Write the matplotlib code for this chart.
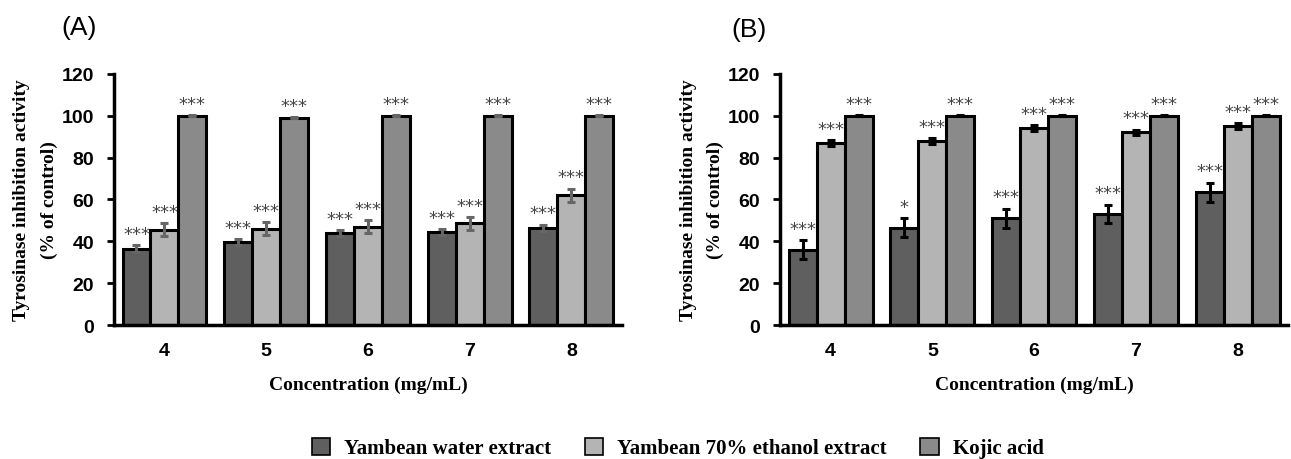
import numpy as np
import matplotlib.pyplot as plt

# Data
conc = ["4", "5", "6", "7", "8"]
series = ["Yambean water extract", "Yambean 70% ethanol extract", "Kojic acid"]

a_water = [36.5, 39.5, 44.0, 44.5, 46.5]
a_water_err = [1.5, 1.5, 1.3, 1.3, 1.5]
a_ethanol = [45.5, 46.0, 47.0, 48.5, 62.0]
a_ethanol_err = [3.0, 3.0, 3.0, 3.0, 3.0]
a_kojic = [100.0, 99.0, 100.0, 100.0, 100.0]
a_kojic_err = [0.3, 0.3, 0.3, 0.3, 0.3]
a_stars = [["***"] * 5, ["***"] * 5, ["***"] * 5]

b_water = [36.0, 46.5, 51.0, 53.0, 63.5]
b_water_err = [4.5, 4.5, 4.5, 4.5, 4.5]
b_ethanol = [87.0, 88.0, 94.0, 92.0, 95.0]
b_ethanol_err = [1.3, 1.3, 1.5, 1.3, 1.3]
b_kojic = [100.0, 100.0, 100.0, 100.0, 100.0]
b_kojic_err = [0.2, 0.2, 0.2, 0.2, 0.2]
b_stars = [["***", "*", "***", "***", "***"], ["***"] * 5, ["***"] * 5]

colors = ["#5f5f5f", "#b4b4b4", "#8a8a8a"]

fig = plt.figure(figsize=(12.91, 4.6), dpi=100)
ax_a = fig.add_axes([0.088, 0.2913, 0.394, 0.546])
ax_b = fig.add_axes([0.604, 0.2913, 0.394, 0.546])

x = np.arange(len(conc))
w = 0.275


def draw(ax, vals, errs, stars, ecol, scol):
    for i, (v, e) in enumerate(zip(vals, errs)):
        pos = x + (i - 1) * w
        ax.bar(pos, v, w, color=colors[i], edgecolor="black", linewidth=2.2,
               yerr=e, ecolor=ecol, capsize=3,
               error_kw=dict(elinewidth=2.2, capthick=2.2), label=series[i], zorder=2)
        for p, vv, ee, s in zip(pos, v, e, stars[i]):
            ax.text(p, vv + ee + 1.2, s, ha="center", va="bottom", fontsize=13,
                    color=scol, family="DejaVu Sans")
    ax.set_xlim(-0.5, len(conc) - 0.5)
    ax.set_ylim(0, 120)
    ax.set_yticks(np.arange(0, 121, 20))
    ax.set_xticks(x)
    ax.set_xticklabels(conc)
    ax.tick_params(axis="x", length=0, pad=12)
    ax.tick_params(axis="y", length=5, width=2, direction="out", pad=9)
    for lab in ax.get_xticklabels() + ax.get_yticklabels():
        lab.set_fontfamily("Liberation Sans")
        lab.set_fontweight("bold")
        lab.set_fontsize(14)
    for sp in ["top", "right"]:
        ax.spines[sp].set_visible(False)
    for sp in ["left", "bottom"]:
        ax.spines[sp].set_linewidth(2.5)
    ax.set_ylabel("Tyrosinase inhibition activity\n(% of control)",
                  family="Liberation Serif", fontweight="bold", fontsize=14,
                  linespacing=1.75, labelpad=3)
    ax.set_xlabel("Concentration (mg/mL)", family="Liberation Serif",
                  fontweight="bold", fontsize=14, labelpad=12)


draw(ax_a, [a_water, a_ethanol, a_kojic], [a_water_err, a_ethanol_err, a_kojic_err],
     a_stars, "#666666", "#444444")
draw(ax_b, [b_water, b_ethanol, b_kojic], [b_water_err, b_ethanol_err, b_kojic_err],
     b_stars, "black", "#444444")

fig.text(0.061, 0.94, "(A)", family="Liberation Sans", fontsize=19, ha="center", va="center")
fig.text(0.580, 0.935, "(B)", family="Liberation Sans", fontsize=19, ha="center", va="center")

proxies = [plt.Rectangle((0, 0), 1, 1, facecolor=c, edgecolor="black", linewidth=1.2)
           for c in colors]
fig.legend(proxies, series, loc="center", bbox_to_anchor=(0.525, 0.024), ncol=3,
           frameon=False, handlelength=0.87, handleheight=0.87, handletextpad=0.7,
           columnspacing=1.6,
           prop=dict(family="Liberation Serif", weight="bold", size=15))

plt.savefig("out.png", dpi=100)
